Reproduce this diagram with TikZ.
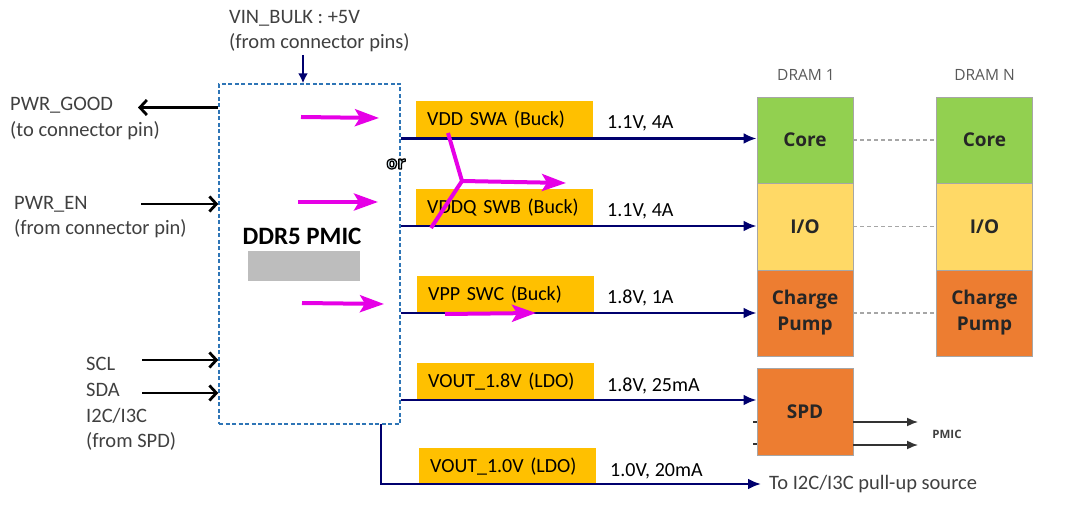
\documentclass[tikz,border=0pt]{standalone}
\usepackage{fontspec}
\setmainfont{Carlito}
\newfontfamily\osans{Open Sans}
\usetikzlibrary{arrows.meta}
\definecolor{navyc}{RGB}{0,0,110}
\definecolor{magc}{RGB}{230,0,230}
\definecolor{boxor}{HTML}{FFC000}
\definecolor{dgreen}{HTML}{92D050}
\definecolor{dyellow}{HTML}{FFD966}
\definecolor{dorange}{HTML}{ED7D31}
\definecolor{pmicblue}{HTML}{2E75B6}
\definecolor{txtgray}{HTML}{404040}
\definecolor{dramgray}{HTML}{595959}
\definecolor{orfill}{HTML}{DDEEF6}
\newcommand\outlinedword[1]{{\color{orfill}\special{pdf:literal 0 0 0 RG 2 Tr 1.3 w 1 j}#1\special{pdf:literal 0 Tr}}}
\begin{document}
\begin{tikzpicture}[x=1pt,y=-1pt,
  lbl/.style={font=\fontsize{20.5}{25.5}\selectfont, text=txtgray, align=left, inner sep=0pt, anchor=west},
  val/.style={font=\fontsize{20}{24}\selectfont, inner sep=0pt, anchor=west},
  reg/.style={fill=boxor, font=\fontsize{20}{24}\selectfont, text width=155pt, align=left, inner xsep=11pt, inner ysep=0pt, minimum height=37pt, anchor=north west},
  dram/.style={draw=gray!70, line width=0.8pt, minimum width=96pt, font=\osans\bfseries\fontsize{19}{26}\selectfont, text=black!85, align=center, inner sep=0pt},
  dramhead/.style={font=\osans\fontsize{15.5}{17}\selectfont, text=dramgray, inner sep=0pt},
  navyarrow/.style={draw=navyc, line width=2.6pt, -{Latex[length=13pt,width=11pt]}},
  blackarrow/.style={draw=black, line width=2.8pt, -{Straight Barb[length=7pt,width=15pt]}},
  grayarrow/.style={draw=black!80, line width=1.6pt, -{Latex[length=11pt,width=9pt]}},
  magline/.style={draw=magc, line width=4pt, line join=round},
  magarrow/.style={draw=magc, line width=4pt, -{Stealth[length=24pt,width=17pt,inset=5pt]}},
  dashlink/.style={draw=gray!70, line width=1.6pt, dash pattern=on 4pt off 3pt}
]
\useasboundingbox (0,0) rectangle (1065,510);

% PMIC block
\node[draw=pmicblue, line width=1.4pt, dash pattern=on 4pt off 2.5pt, minimum width=181pt, minimum height=340pt, inner sep=0pt] (pmic) at (309.5,254) {};
\node[font=\bfseries\fontsize{25}{28}\selectfont, inner sep=0pt] (ptitle) at (302,236) {DDR5 PMIC};
\node[fill=black!26, minimum width=112pt, minimum height=30pt, inner sep=0pt] (blur) at (304,266) {};

% VIN
\node[lbl] (vintxt) at (229,31) {VIN\_BULK : +5V\\(from connector pins)};
\coordinate (vin) at (303,55);
\draw[navyarrow, -{Latex[length=10pt,width=10pt]}] (vin) -- (vin |- pmic.north);

% left signals
\node[lbl] (pgtxt) at (10,118.5) {PWR\_GOOD\\(to connector pin)};
\node[lbl] (entxt) at (14,217) {PWR\_EN\\(from connector pin)};
\node[lbl, font=\fontsize{20.5}{25.7}\selectfont] (i2ctxt) at (86,404) {SCL\\SDA\\I2C/I3C\\(from SPD)};
\coordinate (pgend) at (138,107.5);
\coordinate (enst) at (141,204);
\coordinate (sclst) at (142,360);
\coordinate (sdast) at (142,393);
\draw[blackarrow] (pgend -| pmic.west) -- (pgend);
\draw[blackarrow] (enst) -- (enst -| pmic.west);
\draw[blackarrow] (sclst) -- (sclst -| pmic.west);
\draw[blackarrow] (sdast) -- (sdast -| pmic.west);

% regulator boxes
\node[reg] (swa) at (416,101) {VDD SWA (Buck)};
\node[reg] (swb) at (416,188.5) {VDDQ SWB (Buck)};
\node[reg] (swc) at (417,275.5) {VPP SWC (Buck)};
\node[reg] (ldoa) at (417,363) {VOUT\_1.8V (LDO)};
\node[reg] (ldob) at (419,448) {VOUT\_1.0V (LDO)};

\node[val] (va) at (607,123) {1.1V, 4A};
\node[val] (vb) at (607,211) {1.1V, 4A};
\node[val] (vc) at (607,298) {1.8V, 1A};
\node[val] (vd) at (607,386) {1.8V, 25mA};
\node[val] (ve) at (610,471) {1.0V, 20mA};

% DRAM columns
\node[dramhead] (d1) at (806,75) {DRAM 1};
\node[dramhead] (dn) at (984.5,75) {DRAM N};
\node[dram, fill=dgreen, minimum height=86pt] (core1) at (805,140) {Core};
\node[dram, fill=dyellow, minimum height=87pt] (io1) at (805,226.5) {I/O};
\node[dram, fill=dorange, minimum height=86pt] (cp1) at (805,313) {Charge\\Pump};
\node[dram, fill=dgreen, minimum height=86pt] (coren) at (984.5,140) {Core};
\node[dram, fill=dyellow, minimum height=87pt] (ion) at (984.5,226.5) {I/O};
\node[dram, fill=dorange, minimum height=86pt] (cpn) at (984.5,313) {Charge\\Pump};
\draw[dashlink] (core1.east) -- (coren.west);
\draw[dashlink] (io1.east) -- (ion.west);
\draw[dashlink] (cp1.east) -- (cpn.west);

% SPD
\node[dram, fill=dorange, minimum height=87pt] (spd) at (805,411.5) {SPD};
\coordinate (spda) at (918,422);
\coordinate (spdb) at (918,445);
\coordinate (tka) at (753,422);
\coordinate (tkb) at (753,444);
\draw[black!80, line width=1.6pt] (tka) -- (tka -| spd.west);
\draw[black!80, line width=1.6pt] (tkb) -- (tkb -| spd.west);
\draw[grayarrow] (spda -| spd.east) -- (spda);
\draw[grayarrow] (spdb -| spd.east) -- (spdb);
\node[font=\osans\bfseries\fontsize{11.5}{13}\selectfont, text=black!75, inner sep=0pt] (pmiclbl) at (947,434) {PMIC};

% rails
\draw[navyarrow] (pmic.east |- 0,138.5) -- (core1.west |- 0,138.5);
\draw[navyarrow] (pmic.east |- 0,226) -- (io1.west |- 0,226);
\draw[navyarrow] (pmic.east |- 0,313) -- (cp1.west |- 0,313);
\draw[navyarrow] (pmic.east |- 0,400) -- (spd.west |- 0,400);
\node[lbl, text=txtgray] (pullup) at (769,484) {To I2C/I3C pull-up source};
\coordinate (vdrop) at (381,424);
\draw[navyarrow] (vdrop) |- ([xshift=-8pt]pullup.west);

% magenta annotations
\coordinate (m1a) at (301,117); \coordinate (m1b) at (379,118);
\coordinate (m2a) at (298,202); \coordinate (m2b) at (378,202);
\coordinate (m3a) at (302,303); \coordinate (m3b) at (384,304);
\draw[magarrow] (m1a) -- (m1b);
\draw[magarrow] (m2a) -- (m2b);
\draw[magarrow] (m3a) -- (m3b);
\coordinate (ya) at (448,133);
\coordinate (yj) at (462,181);
\coordinate (yb) at (431,228);
\coordinate (ye) at (566,183);
\draw[magline] (ya) -- (yj) -- (yb);
\draw[magarrow] (yj) -- (ye);
\coordinate (vpa) at (445,314);
\coordinate (vpb) at (536,313);
\draw[magarrow] (vpa) -- (vpb);
\node[font=\osans\bfseries\fontsize{18}{20}\selectfont, inner sep=0pt] (ortxt) at (396,164) {\outlinedword{or}};
\end{tikzpicture}
\end{document}
